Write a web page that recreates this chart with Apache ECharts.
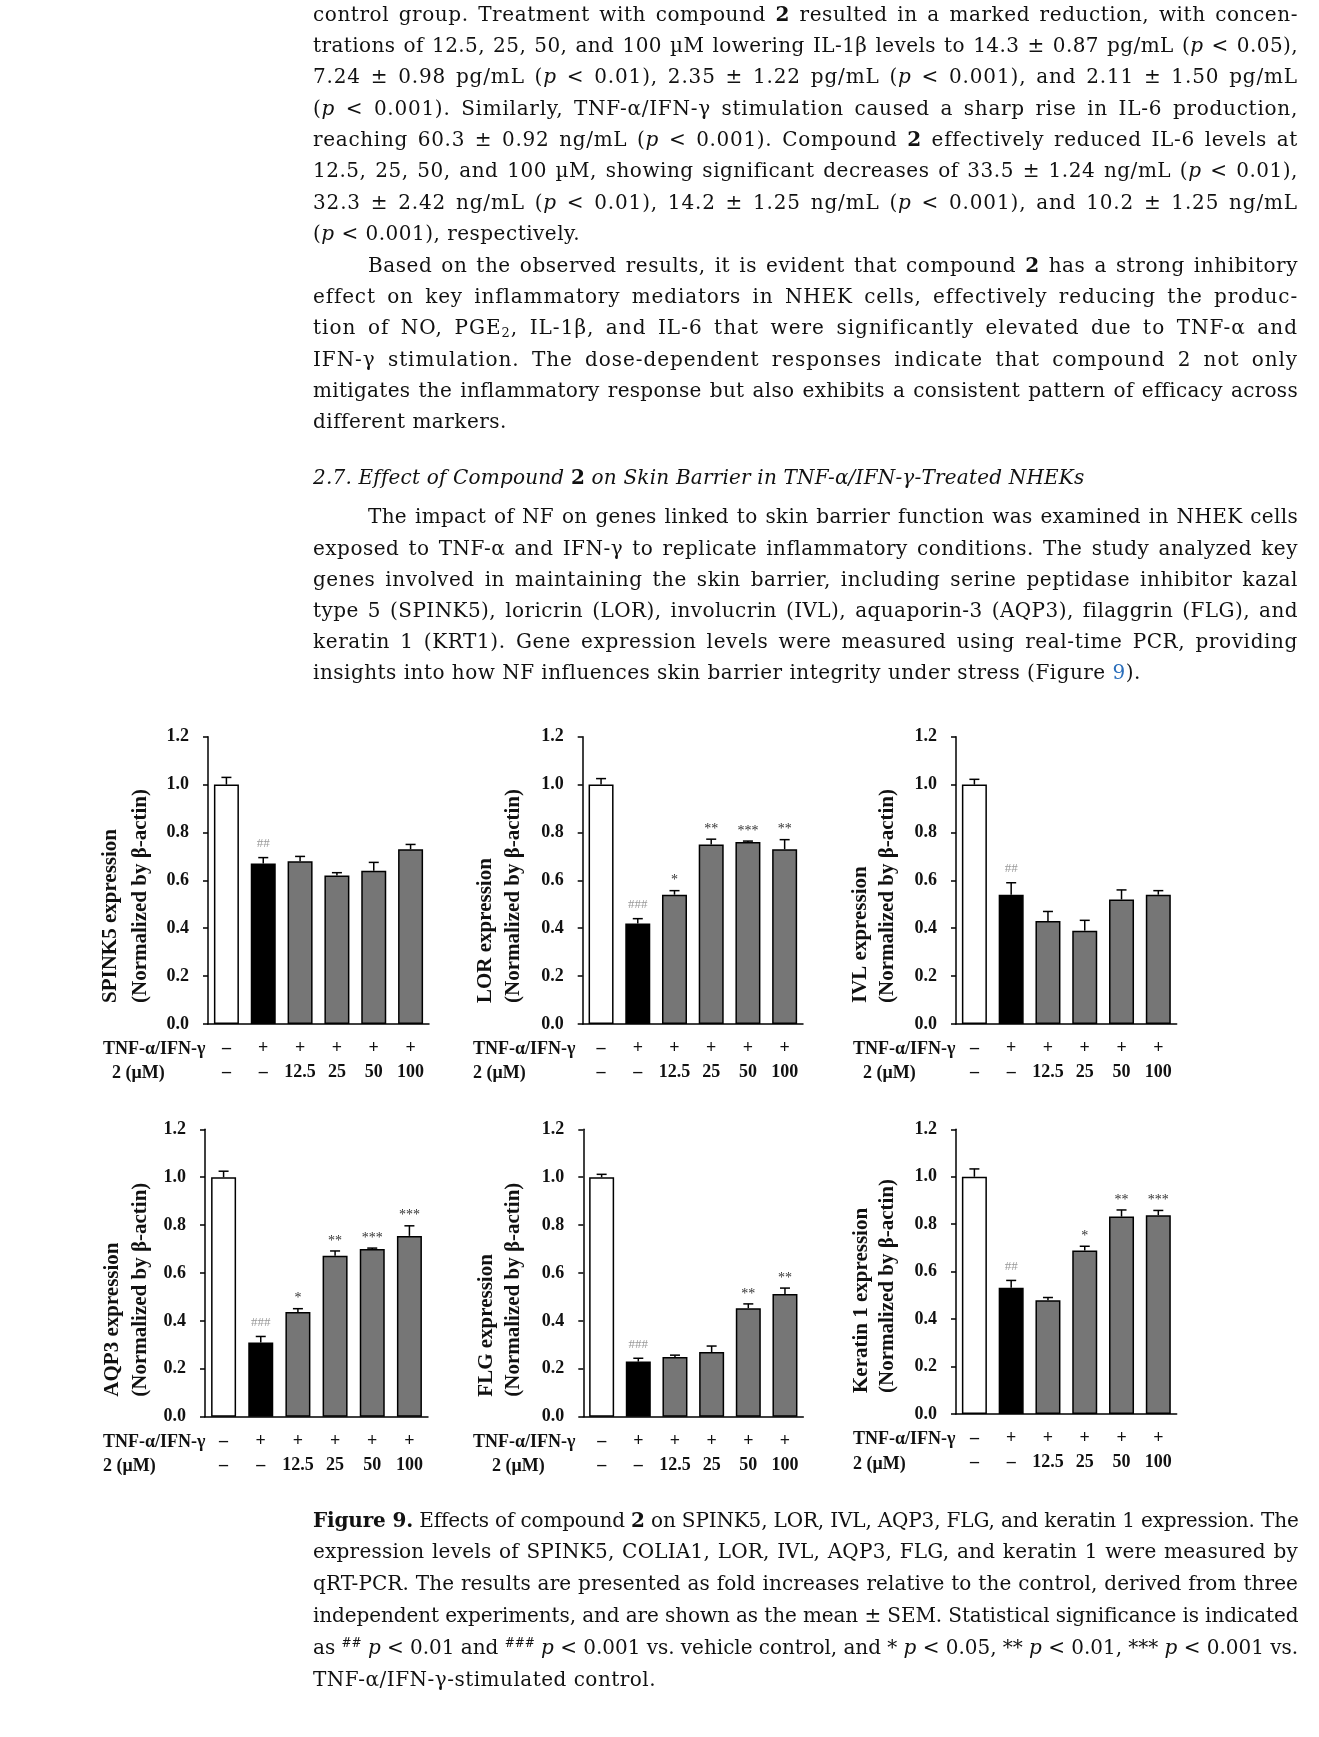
<!DOCTYPE html>
<html>
<head>
<meta charset="utf-8">
<script src="https://cdn.jsdelivr.net/npm/echarts/dist/echarts.min.js"></script>
<style>
  html, body { margin:0; padding:0; background:#fff; }
  body { width:1319px; height:1737px; position:relative; overflow:hidden; }
  #chart { position:absolute; left:0; top:0; width:1319px; height:1737px; z-index:1; }
  .t { position:absolute; left:313px; width:985px; font-family:"DejaVu Serif", serif; font-size:20px; color:#111; white-space:nowrap; z-index:2; }
  .t sup { font-size:0.6em; vertical-align:0.55em; line-height:0; }
  .t sub { font-size:0.65em; vertical-align:-0.25em; line-height:0; }
  .lnk { color:#2a6ebb; }
</style>
</head>
<body>
<div id="chart"></div>
<script>
// ---------------- data ----------------
const categories = ['Vehicle', 'TNF-α/IFN-γ', '12.5 µM', '25 µM', '50 µM', '100 µM'];
const tnfRow  = ['–', '+', '+', '+', '+', '+'];
const doseRow = ['–', '–', '12.5', '25', '50', '100'];
const yTicks = [0, 0.2, 0.4, 0.6, 0.8, 1.0, 1.2];

const spink5Mean = [1.00, 0.67, 0.68, 0.62, 0.64, 0.73];
const spink5Sem  = [0.03, 0.025, 0.02, 0.012, 0.035, 0.02];
const spink5Sig  = ['', '##', '', '', '', ''];

const lorMean = [1.00, 0.42, 0.54, 0.75, 0.76, 0.73];
const lorSem  = [0.025, 0.02, 0.017, 0.022, 0.004, 0.04];
const lorSig  = ['', '###', '*', '**', '***', '**'];

const ivlMean = [1.00, 0.54, 0.43, 0.39, 0.52, 0.54];
const ivlSem  = [0.022, 0.05, 0.04, 0.043, 0.04, 0.017];
const ivlSig  = ['', '##', '', '', '', ''];

const aqp3Mean = [1.00, 0.31, 0.437, 0.672, 0.70, 0.755];
const aqp3Sem  = [0.025, 0.025, 0.014, 0.02, 0.004, 0.042];
const aqp3Sig  = ['', '###', '*', '**', '***', '***'];

const flgMean = [1.00, 0.23, 0.249, 0.27, 0.453, 0.512];
const flgSem  = [0.012, 0.014, 0.008, 0.025, 0.018, 0.025];
const flgSig  = ['', '###', '', '', '**', '**'];

const krt1Mean = [1.00, 0.532, 0.479, 0.689, 0.832, 0.838];
const krt1Sem  = [0.033, 0.031, 0.012, 0.018, 0.028, 0.02];
const krt1Sig  = ['', '##', '', '*', '**', '***'];

const yTitles = ['SPINK5 expression', 'LOR expression', 'IVL expression', 'AQP3 expression', 'FLG expression', 'Keratin 1 expression'];
const yTitle2 = '(Normalized by β-actin)';
const rowTitle1 = 'TNF-α/IFN-γ';
const rowTitle2 = '2 (μM)';

// ---------------- text ----------------
const topLines = [
  {h:'control group. Treatment with compound <b>2</b> resulted in a marked reduction, with concen-'},
  {h:'trations of 12.5, 25, 50, and 100 µM lowering IL-1β levels to 14.3 ± 0.87 pg/mL (<i>p</i> &lt; 0.05),'},
  {h:'7.24 ± 0.98 pg/mL (<i>p</i> &lt; 0.01), 2.35 ± 1.22 pg/mL (<i>p</i> &lt; 0.001), and 2.11 ± 1.50 pg/mL'},
  {h:'(<i>p</i> &lt; 0.001). Similarly, TNF-α/IFN-γ stimulation caused a sharp rise in IL-6 production,'},
  {h:'reaching 60.3 ± 0.92 ng/mL (<i>p</i> &lt; 0.001). Compound <b>2</b> effectively reduced IL-6 levels at'},
  {h:'12.5, 25, 50, and 100 µM, showing significant decreases of 33.5 ± 1.24 ng/mL (<i>p</i> &lt; 0.01),'},
  {h:'32.3 ± 2.42 ng/mL (<i>p</i> &lt; 0.01), 14.2 ± 1.25 ng/mL (<i>p</i> &lt; 0.001), and 10.2 ± 1.25 ng/mL'},
  {h:'(<i>p</i> &lt; 0.001), respectively.', j:false},
  {h:'Based on the observed results, it is evident that compound <b>2</b> has a strong inhibitory', ind:55},
  {h:'effect on key inflammatory mediators in NHEK cells, effectively reducing the produc-'},
  {h:'tion of NO, PGE<sub>2</sub>, IL-1β, and IL-6 that were significantly elevated due to TNF-α and'},
  {h:'IFN-γ stimulation. The dose-dependent responses indicate that compound 2 not only'},
  {h:'mitigates the inflammatory response but also exhibits a consistent pattern of efficacy across'},
  {h:'different markers.', j:false}
];
const headLines = [
  {h:'<i>2.7. Effect of Compound </i><b>2</b><i> on Skin Barrier in TNF-α/IFN-γ-Treated NHEKs</i>', j:false, head:true}
];
const paraLines = [
  {h:'The impact of NF on genes linked to skin barrier function was examined in NHEK cells', ind:55},
  {h:'exposed to TNF-α and IFN-γ to replicate inflammatory conditions. The study analyzed key'},
  {h:'genes involved in maintaining the skin barrier, including serine peptidase inhibitor kazal'},
  {h:'type 5 (SPINK5), loricrin (LOR), involucrin (IVL), aquaporin-3 (AQP3), filaggrin (FLG), and'},
  {h:'keratin 1 (KRT1). Gene expression levels were measured using real-time PCR, providing'},
  {h:'insights into how NF influences skin barrier integrity under stress (Figure <span class="lnk">9</span>).', j:false}
];
const capLines = [
  {h:'<b>Figure 9.</b> Effects of compound <b>2</b> on SPINK5, LOR, IVL, AQP3, FLG, and keratin 1 expression. The'},
  {h:'expression levels of SPINK5, COLIA1, LOR, IVL, AQP3, FLG, and keratin 1 were measured by'},
  {h:'qRT-PCR. The results are presented as fold increases relative to the control, derived from three'},
  {h:'independent experiments, and are shown as the mean ± SEM. Statistical significance is indicated'},
  {h:'as <sup>##</sup> <i>p</i> &lt; 0.01 and <sup>###</sup> <i>p</i> &lt; 0.001 vs. vehicle control, and * <i>p</i> &lt; 0.05, ** <i>p</i> &lt; 0.01, *** <i>p</i> &lt; 0.001 vs.'},
  {h:'TNF-α/IFN-γ-stimulated control.', j:false}
];

const allSpans = [];
function placeLines(lines, startCenter, pitch) {
  lines.forEach((ln, i) => {
    const d = document.createElement('div');
    d.className = 't';
    d.style.top = (startCenter + i * pitch - pitch / 2) + 'px';
    d.style.height = pitch + 'px';
    d.style.lineHeight = pitch + 'px';
    const ind = ln.ind || 0;
    d.style.left = (313 + ind) + 'px';
    const s = document.createElement('span');
    s.innerHTML = ln.h;
    d.appendChild(s);
    document.body.appendChild(d);
    allSpans.push({s, ln, target: 985 - ind});
  });
}
placeLines(topLines, 14.4, 31.35);
placeLines(headLines, 478, 31.2);
placeLines(paraLines, 517, 31.2);
placeLines(capLines, 1520.5, 31.8);

// justify: part of the slack goes to letter-spacing, the rest to word-spacing
const lsList = [];
allSpans.forEach(o => {
  if (o.ln.j === false) return;
  const w = o.s.getBoundingClientRect().width;
  const txt = o.s.textContent;
  const spaces = (txt.match(/ /g) || []).length;
  const extra = o.target - w;
  let ls = extra * 0.6 / txt.length;
  if (extra < 0) ls = extra / txt.length;
  o.s.style.letterSpacing = ls + 'px';
  lsList.push(ls);
  const w2 = o.s.getBoundingClientRect().width;
  const rest = o.target - w2;
  if (spaces && rest > 0) o.s.style.wordSpacing = (rest / spaces) + 'px';
});
const lsAvg = lsList.reduce((a, b) => a + b, 0) / Math.max(1, lsList.length);
allSpans.forEach(o => {
  if (o.ln.j === false) o.s.style.letterSpacing = (o.ln.head ? lsAvg * 0.4 : lsAvg) + 'px';
});

// ---------------- chart ----------------
const barColors = ['#ffffff', '#000000', '#767676', '#767676', '#767676', '#767676'];
const panels = [
  {mean:spink5Mean, sem:spink5Sem, sig:spink5Sig, g:[208, 736.7, 221, 287.3],   yl:[111, 141], ylY:1003, rx:[103, 112], ry:[1049, 1073.5]},
  {mean:lorMean,    sem:lorSem,    sig:lorSig,    g:[582.7, 736.7, 220.3, 287.3], yl:[486, 514], ylY:1003, rx:[473, 473], ry:[1049, 1073.5]},
  {mean:ivlMean,    sem:ivlSem,    sig:ivlSig,    g:[956, 736.7, 220.7, 287.3],   yl:[860.7, 887.5], ylY:1003, rx:[853, 863], ry:[1049, 1073.5]},
  {mean:aqp3Mean,   sem:aqp3Sem,   sig:aqp3Sig,   g:[205, 1129.3, 223, 287.4],    yl:[113, 141], ylY:1396.7, rx:[103, 103], ry:[1442, 1466.7]},
  {mean:flgMean,    sem:flgSem,    sig:flgSig,    g:[583.3, 1129.3, 220, 287.4],  yl:[486.7, 514], ylY:1396.7, rx:[473, 492], ry:[1442, 1466.7]},
  {mean:krt1Mean,   sem:krt1Sem,   sig:krt1Sig,   g:[956, 1129.3, 220.7, 284.7],  yl:[861.7, 887.5], ylY:1393, rx:[853, 853], ry:[1439.5, 1464]}
];

const FONT = '"Liberation Serif", "Times New Roman", serif';
const grids = [], xAxes = [], yAxes = [], series = [], graphics = [];
panels.forEach((p, k) => {
  grids.push({left:p.g[0], top:p.g[1], width:p.g[2], height:p.g[3]});
  xAxes.push({
    gridIndex:k, type:'category', data:categories,
    axisLine:{lineStyle:{color:'#000', width:1.5}},
    axisTick:{show:false},
    axisLabel:{interval:0, margin:12, lineHeight:24.5, fontSize:18, fontWeight:'bold', fontFamily:FONT, color:'#111',
      formatter:(v, i) => tnfRow[i] + '\n' + doseRow[i]}
  });
  yAxes.push({
    gridIndex:k, type:'value', min:yTicks[0], max:yTicks[yTicks.length - 1], interval:0.2,
    axisLine:{show:true, lineStyle:{color:'#000', width:1.5}},
    axisTick:{show:true, length:5, lineStyle:{color:'#000', width:1.5}},
    splitLine:{show:false},
    axisLabel:{margin:19, fontSize:18, fontWeight:'bold', fontFamily:FONT, color:'#111', formatter:v => v.toFixed(1)}
  });
  series.push({
    type:'bar', xAxisIndex:k, yAxisIndex:k, barWidth:25, z:2,
    itemStyle:{borderColor:'#000', borderWidth:1.5},
    data:p.mean.map((v, i) => ({value:v, itemStyle:{color:barColors[i], borderColor:'#000', borderWidth:1.5}}))
  });
  const sigArr = p.sig;
  series.push({
    type:'custom', xAxisIndex:k, yAxisIndex:k, z:5,
    data:p.mean.map((v, i) => [i, v, p.sem[i]]),
    encode:{x:0, y:1},
    renderItem:(params, api) => {
      const i = api.value(0), v = api.value(1), e = api.value(2);
      const base = api.coord([i, v]);
      const top = api.coord([i, v + e]);
      const children = [
        {type:'line', shape:{x1:base[0], y1:base[1], x2:base[0], y2:top[1]}, style:{stroke:'#000', lineWidth:1.5}},
        {type:'line', shape:{x1:base[0] - 5, y1:top[1], x2:base[0] + 5, y2:top[1]}, style:{stroke:'#000', lineWidth:1.5}}
      ];
      const s = sigArr[params.dataIndex];
      if (s) {
        const isHash = s.charAt(0) === '#';
        children.push({type:'text', style:{text:s, x:base[0], y:top[1] - (isHash ? 14 : 10),
          align:'center', verticalAlign:'middle', fontSize:isHash ? 13 : 14, fontFamily:FONT,
          fill: isHash ? '#9a9a9a' : '#333'}});
      }
      return {type:'group', children};
    }
  });
  graphics.push({type:'text', x:p.yl[0], y:p.ylY, rotation:Math.PI / 2,
    style:{text:yTitles[k], align:'left', verticalAlign:'middle', fontSize:21, fontWeight:'bold', fontFamily:FONT, fill:'#111'}});
  graphics.push({type:'text', x:p.yl[1], y:p.ylY, rotation:Math.PI / 2,
    style:{text:yTitle2, align:'left', verticalAlign:'middle', fontSize:21, fontWeight:'bold', fontFamily:FONT, fill:'#111'}});
  graphics.push({type:'text', x:p.rx[0], y:p.ry[0],
    style:{text:rowTitle1, align:'left', verticalAlign:'middle', fontSize:18, fontWeight:'bold', fontFamily:FONT, fill:'#111'}});
  graphics.push({type:'text', x:p.rx[1], y:p.ry[1],
    style:{text:rowTitle2, align:'left', verticalAlign:'middle', fontSize:18, fontWeight:'bold', fontFamily:FONT, fill:'#111'}});
});

const chart = echarts.init(document.getElementById('chart'), null, {renderer:'canvas'});
chart.setOption({
  animation:false,
  backgroundColor:'#fff',
  grid:grids, xAxis:xAxes, yAxis:yAxes, series:series, graphic:graphics
});
</script>
</body>
</html>
